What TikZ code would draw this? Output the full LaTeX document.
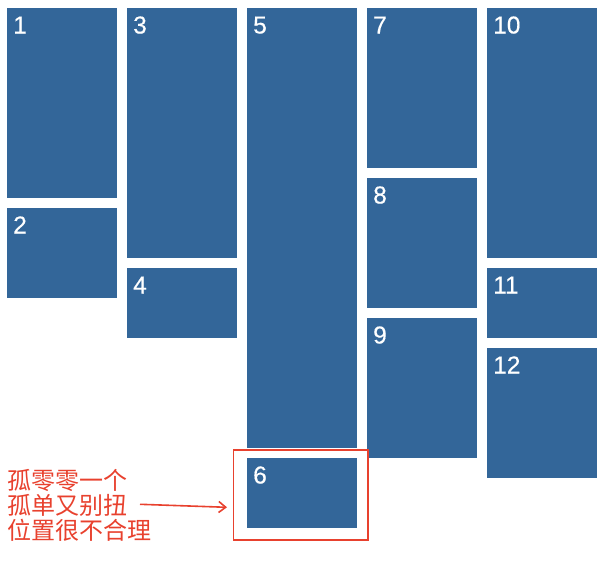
\documentclass[tikz,border=0pt]{standalone}
\usepackage{fontspec}
\setmainfont{Liberation Sans}
\newfontfamily\numfont[FakeBold=0.4]{Liberation Sans}
\newfontfamily\cjk{Noto Sans CJK SC}
\usetikzlibrary{calc,arrows.meta}
\definecolor{tileblue}{HTML}{336699}
\definecolor{notered}{HTML}{E8412E}
\begin{document}
\begin{tikzpicture}[x=1pt,y=-1pt,
  tile/.style={fill=tileblue, draw=none, anchor=north west, minimum width=110pt, inner sep=0pt, outer sep=0pt},
  num/.style={text=white, font=\numfont\fontsize{24.5}{24.5}\selectfont, anchor=base west, inner sep=0pt},
  mark box/.style={draw=notered, line width=1.6pt, minimum width=134.7pt, minimum height=89.8pt, inner sep=0pt},
  note/.style={text=notered, font=\cjk\fontsize{24}{25}\selectfont, align=left, anchor=north west, inner sep=0pt},
  note arrow/.style={draw=notered, line width=1.6pt, -{Straight Barb[length=7pt,width=11pt]}}]
\useasboundingbox (0,0) rectangle (606,573);
% column 1
\node[tile, minimum height=190pt] (b1) at (7,8) {};
\node[tile, minimum height=90pt] (b2) at (7,208) {};
% column 2
\node[tile, minimum height=250pt] (b3) at (127,8) {};
\node[tile, minimum height=70pt] (b4) at (127,268) {};
% column 3
\node[tile, minimum height=440pt] (b5) at (247,8) {};
\node[tile, minimum height=70pt] (b6) at (247,458) {};
% column 4
\node[tile, minimum height=160pt] (b7) at (367,8) {};
\node[tile, minimum height=130pt] (b8) at (367,178) {};
\node[tile, minimum height=140pt] (b9) at (367,318) {};
% column 5
\node[tile, minimum height=250pt] (b10) at (487,8) {};
\node[tile, minimum height=70pt] (b11) at (487,268) {};
\node[tile, minimum height=130pt] (b12) at (487,348) {};
% numbers
\foreach \n in {1,...,12}{
  \node[num] (l\n) at ($(b\n.north west)+(6,25.5)$) {\n};
}
% annotation
\node[mark box] (mk) at (300.85,495) {};
\node[note] (txt) at (7,469.5) {孤零零一个\\孤单又别扭\\位置很不合理};
\coordinate (arrS) at (140,504.3);
\coordinate (arrE) at (227,507.3);
\draw[note arrow] (arrS) -- (arrE);
\end{tikzpicture}
\end{document}
